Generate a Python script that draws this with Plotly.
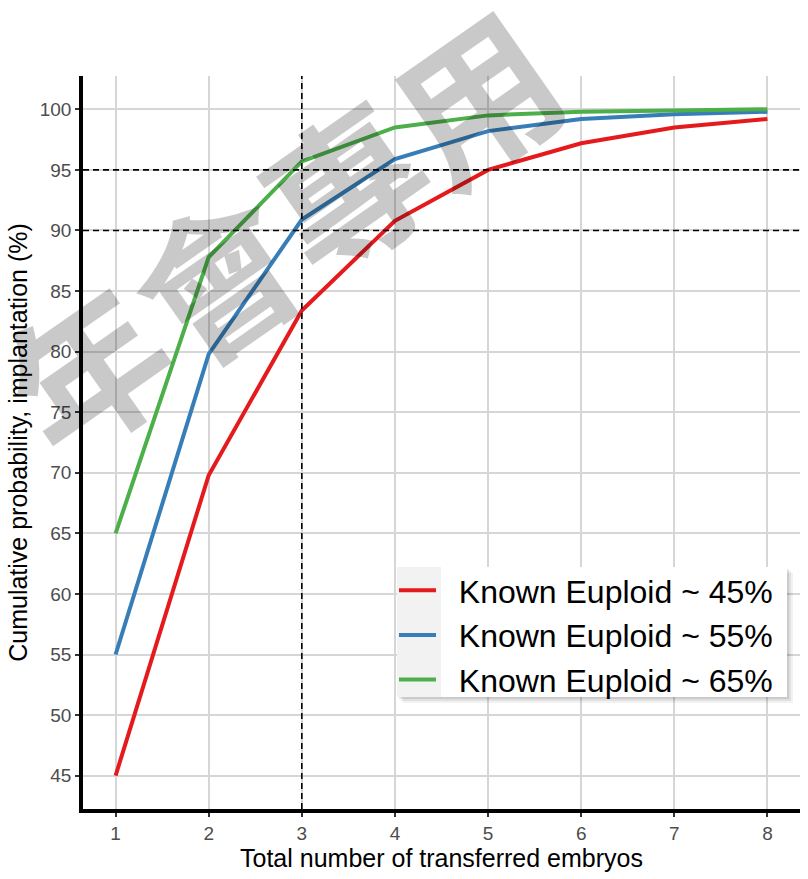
import plotly.graph_objects as go

# ---- data ----
n_embryos = [1, 2, 3, 4, 5, 6, 7, 8]
euploid_45 = [45.0, 69.8, 83.4, 90.8, 95.0, 97.2, 98.5, 99.2]
euploid_55 = [55.0, 79.8, 90.9, 95.9, 98.2, 99.2, 99.6, 99.8]
euploid_65 = [65.0, 87.8, 95.7, 98.5, 99.5, 99.8, 99.9, 100.0]
series_names = ["Known Euploid ~ 45%", "Known Euploid ~ 55%", "Known Euploid ~ 65%"]
series_colors = ["#e41a1c", "#377eb8", "#4daf4a"]
y_ticks = [45, 50, 55, 60, 65, 70, 75, 80, 85, 90, 95, 100]
ref_y = [90, 95]
ref_x = 3
watermark = "年會專用"

FONT = "Liberation Sans, Arial, sans-serif"
NBSP = "\u00a0"

fig = go.Figure()
for i, (name, vals, col) in enumerate(zip(series_names, [euploid_45, euploid_55, euploid_65], series_colors)):
    fig.add_trace(go.Scatter(
        x=n_embryos, y=vals, mode="lines", name=NBSP * 2 + name,
        line=dict(color=col, width=4),
    ))

# plot-area geometry in pixels (for paper-coordinate shapes)
L, R, T, B = 83, 800, 76, 809
W, H = R - L, B - T
def px(x):
    return (x - L) / W
def py(y):
    return (B - y) / H

shapes = []
# reference dashed lines
for yv in ref_y:
    shapes.append(dict(type="line", xref="paper", x0=0, x1=1, yref="y", y0=yv, y1=yv,
                       line=dict(color="black", width=1.6, dash="6px,4px"), layer="above"))
shapes.append(dict(type="line", xref="x", x0=ref_x, x1=ref_x, yref="paper", y0=0, y1=1,
                   line=dict(color="black", width=1.6, dash="6px,4px"), layer="above"))

# legend box with shadow
lx0, lx1, ly0, ly1 = 397, 787, 567, 697
for off, a in [(6, 0.05), (4, 0.07), (2, 0.09)]:
    shapes.append(dict(type="rect", xref="paper", yref="paper",
                       x0=px(lx0 + off), x1=px(lx1 + off), y0=py(ly1 + off), y1=py(ly0 + off),
                       line=dict(width=0), fillcolor=f"rgba(0,0,0,{a})", layer="above"))
shapes.append(dict(type="rect", xref="paper", yref="paper",
                   x0=px(lx0), x1=px(lx1), y0=py(ly1), y1=py(ly0),
                   line=dict(width=0), fillcolor="white", layer="above"))
shapes.append(dict(type="rect", xref="paper", yref="paper",
                   x0=px(lx0), x1=px(441), y0=py(ly1), y1=py(ly0),
                   line=dict(width=0), fillcolor="#f2f2f2", layer="above"))

fig.update_layout(
    width=808, height=879,
    margin=dict(l=L, r=808 - R, t=T, b=879 - B, pad=0),
    paper_bgcolor="white", plot_bgcolor="white",
    font=dict(family=FONT),
    shapes=shapes,
    showlegend=True,
    legend=dict(
        x=px(394), y=py(563), xanchor="left", yanchor="top",
        bgcolor="rgba(0,0,0,0)", borderwidth=0,
        font=dict(size=32, color="black", family=FONT),
        itemwidth=37,
    ),
    xaxis=dict(
        range=[0.65, 8.35], tickmode="array", tickvals=n_embryos,
        showgrid=True, gridcolor="#d6d6d6", gridwidth=1.5, zeroline=False,
        showline=True, linecolor="black", linewidth=3.5,
        ticks="outside", ticklen=4, tickwidth=1.5, tickcolor="#333333",
        tickfont=dict(size=19, color="#4d4d4d"),
        title=dict(text="Total number of transferred embryos", font=dict(size=25, color="black"), standoff=3),
    ),
    yaxis=dict(
        range=[42.25, 102.75], tickmode="array", tickvals=y_ticks,
        showgrid=True, gridcolor="#d6d6d6", gridwidth=1.5, zeroline=False,
        showline=True, linecolor="black", linewidth=3.5,
        ticks="outside", ticklen=4, tickwidth=1.5, tickcolor="#333333",
        tickfont=dict(size=19, color="#4d4d4d"),
        title=dict(text="Cumulative probability, implantation (%)", font=dict(size=25, color="black"), standoff=6),
    ),
    annotations=[dict(
        text=watermark, xref="paper", yref="paper", x=px(279), y=py(229),
        xanchor="center", yanchor="middle",
        showarrow=False, textangle=-35,
        font=dict(size=158, color="rgba(0,0,0,0.21)", family="Noto Sans CJK TC", weight="bold"),
    )],
)

fig.write_html("out.html")
